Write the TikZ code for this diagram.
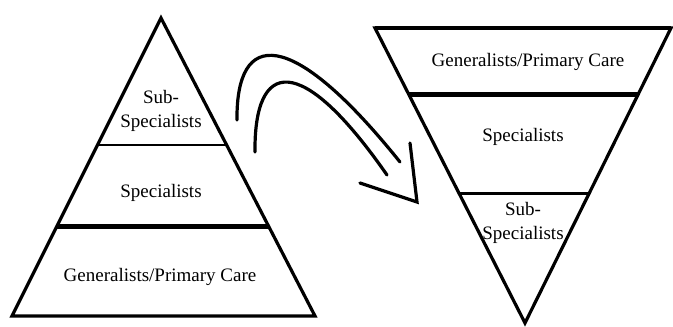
\documentclass[tikz,border=0pt]{standalone}
\usepackage{fontspec}
\setmainfont{Liberation Serif}
\usetikzlibrary{calc}
\begin{document}
\begin{tikzpicture}[x=1pt,y=-1pt,
  tri/.style={line width=3.2pt,line join=miter},
  thickdiv/.style={line width=5pt},
  thindiv/.style={line width=2.8pt},
  lbl/.style={font=\fontsize{19}{24}\selectfont,align=center,inner sep=0pt},
  arr/.style={line width=3.2pt,line cap=round,line join=miter}]
\useasboundingbox (0,0) rectangle (673,327);
% left pyramid
\coordinate (LA) at (161,18);
\coordinate (LB) at (12,316);
\coordinate (LC) at (315,316);
\draw[tri] (LA) -- (LB) -- (LC) -- cycle;
\coordinate (L1a) at ($(LA)!0.426!(LB)$);
\coordinate (L1b) at ($(LA)!0.426!(LC)$);
\coordinate (L2a) at ($(LA)!0.698!(LB)$);
\coordinate (L2b) at ($(LA)!0.698!(LC)$);
\draw[thindiv] (L1a) -- (L1b);
\draw[thickdiv] (L2a) -- (L2b);
\node[lbl] (lsub) at (161,111) {Sub-\\Specialists};
\node[lbl] (lspec) at (161,193) {Specialists};
\node[lbl] (lgen) at (160,277) {Generalists/Primary Care};
% right inverted pyramid
\coordinate (RA) at (375,28);
\coordinate (RB) at (671,28);
\coordinate (RC) at (525,323);
\draw[tri] (RA) -- (RB) -- (RC) -- cycle;
\draw[line width=4.2pt] (RA) -- (RB);
\coordinate (R1a) at ($(RA)!0.224!(RC)$);
\coordinate (R1b) at ($(RB)!0.224!(RC)$);
\coordinate (R2a) at ($(RA)!0.56!(RC)$);
\coordinate (R2b) at ($(RB)!0.56!(RC)$);
\draw[thickdiv] (R1a) -- (R1b);
\draw[thindiv] (R2a) -- (R2b);
\node[lbl] (rgen) at (528,62) {Generalists/Primary Care};
\node[lbl] (rspec) at (523,137) {Specialists};
\node[lbl] (rsub) at (523,223) {Sub-\\Specialists};
% curved hollow arrow
\coordinate (o1) at (237,120);
\coordinate (o2) at (400,162);
\coordinate (i1) at (255,152);
\coordinate (i2) at (387,175);
\coordinate (hl) at (360,183);
\coordinate (ht) at (417,202);
\coordinate (hr) at (410,143);
\draw[arr] (o1) .. controls (236,30) and (290,25) .. (o2);
\draw[arr] (i1) .. controls (254,60) and (300,50) .. (i2);
\draw[arr] (hl) -- (ht) -- (hr);
\end{tikzpicture}
\end{document}
